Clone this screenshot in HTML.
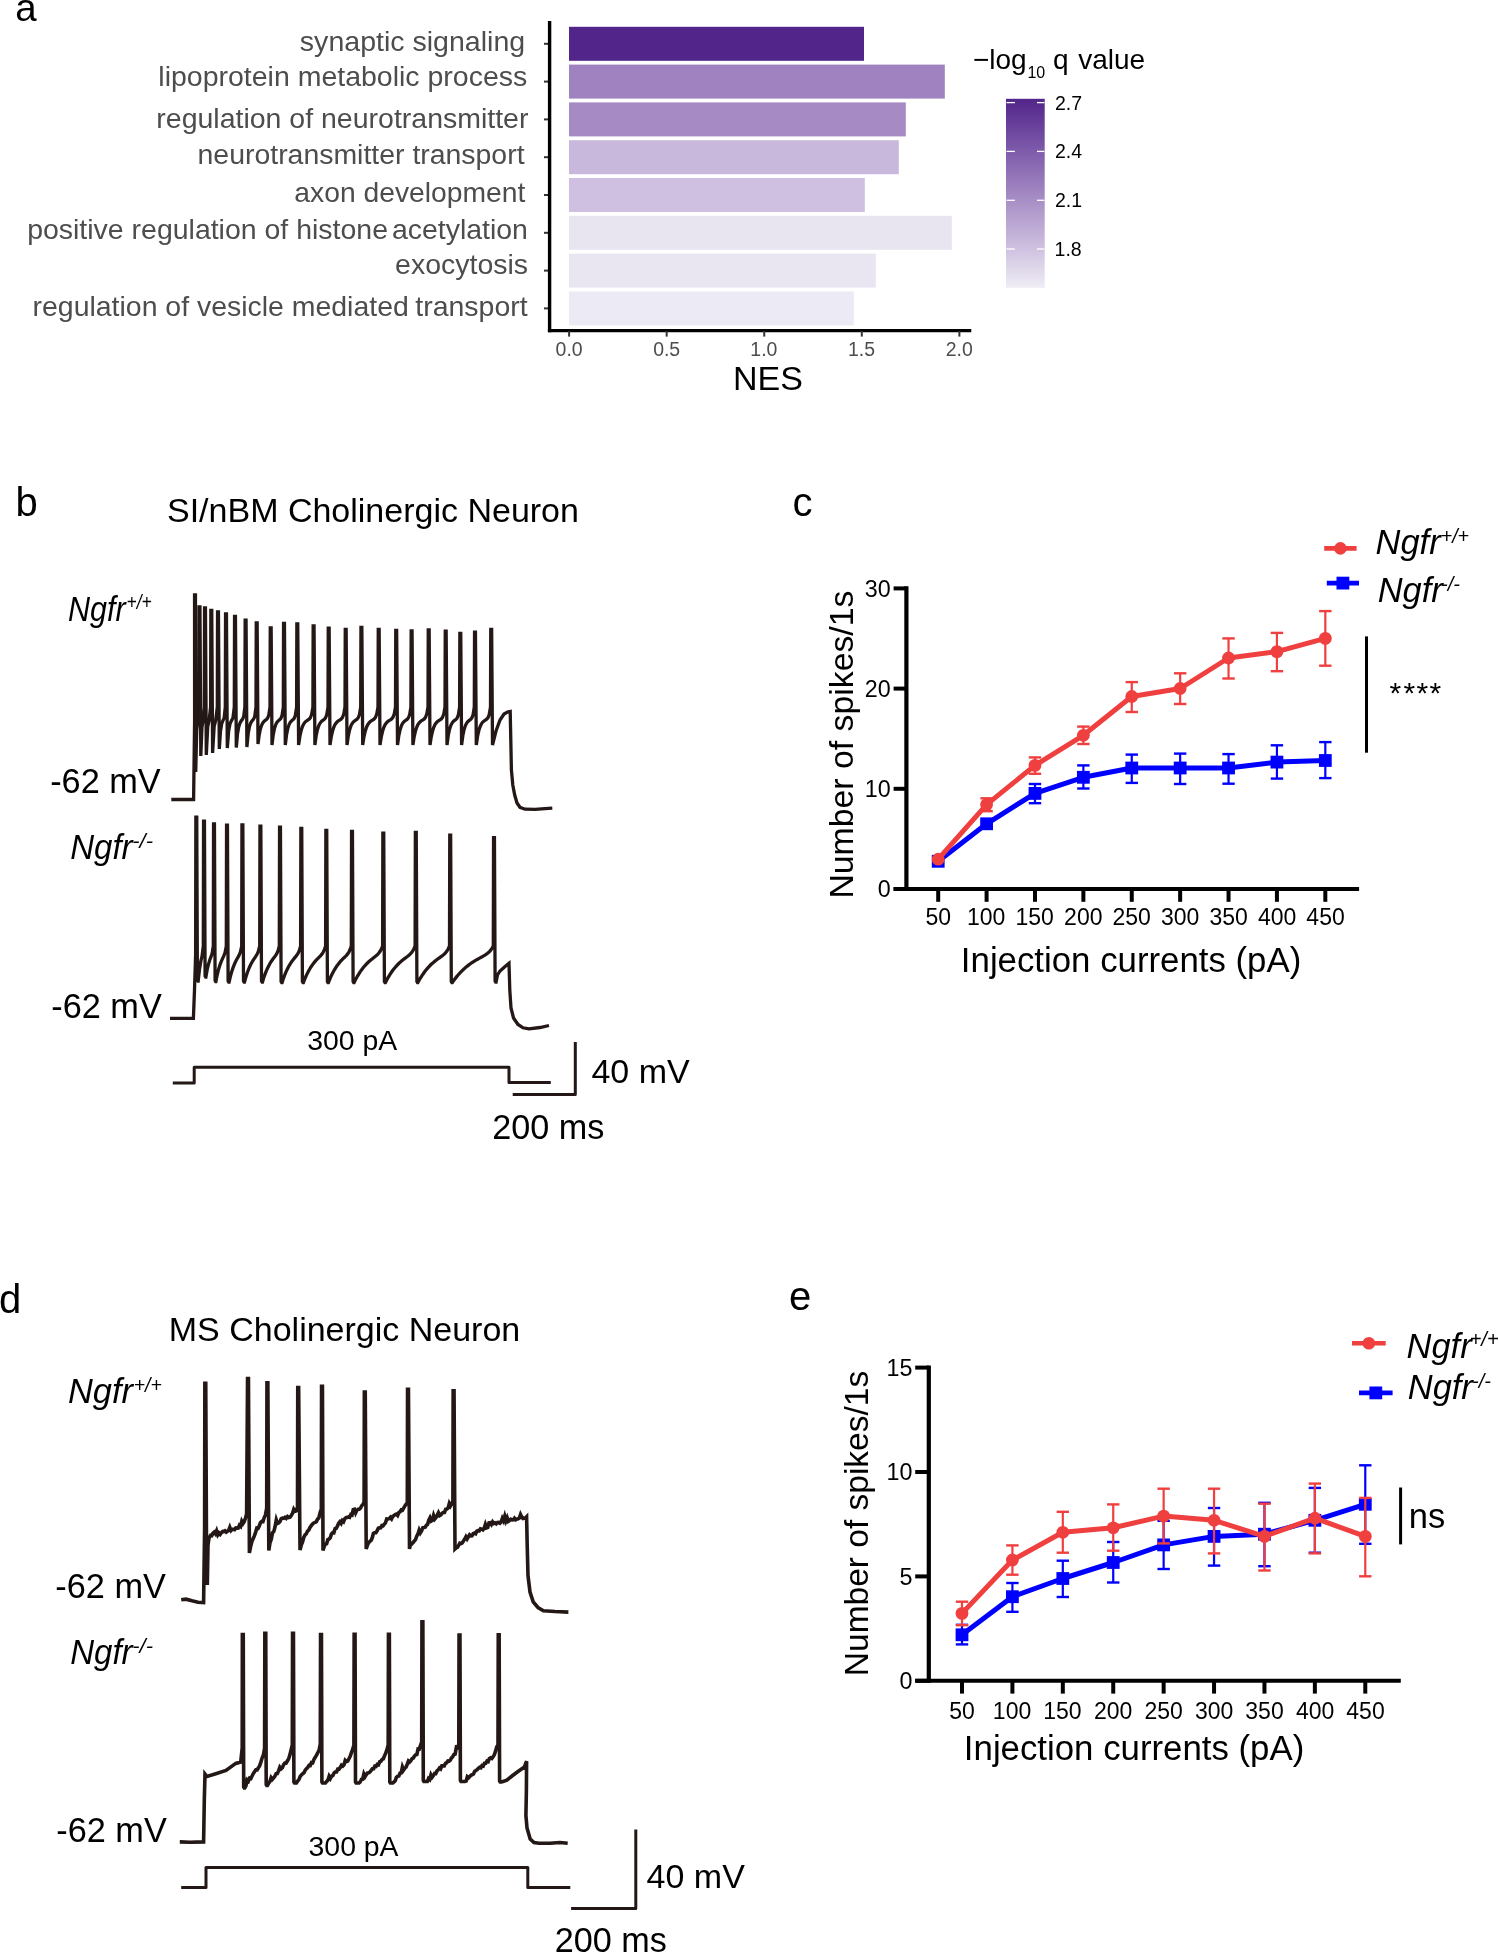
<!DOCTYPE html>
<html><head><meta charset="utf-8"><title>Figure</title>
<style>
html,body{margin:0;padding:0;background:#fff;}
svg{display:block;will-change:transform;}
text{font-family:"Liberation Sans",sans-serif;}
</style></head><body>
<svg width="1499" height="1953" viewBox="0 0 1499 1953">
<rect width="1499" height="1953" fill="#fff"/>
<text x="15.37" y="20.9" style="font-size:38.5px;fill:#000">a</text>
<text x="299.84" y="50.8" style="font-size:28.56px;fill:#4d4d4d">synaptic signaling</text>
<text x="158.35" y="86" style="font-size:28.49px;fill:#4d4d4d">lipoprotein metabolic process</text>
<text x="156.35" y="127.7" style="font-size:28.49px;fill:#4d4d4d">regulation of neurotransmitter</text>
<text x="197.55" y="163.5" style="font-size:28.43px;fill:#4d4d4d">neurotransmitter transport</text>
<text x="294.33" y="201.5" style="font-size:28.28px;fill:#4d4d4d">axon development</text>
<text x="27.15" y="238.5" style="font-size:28.47px;fill:#4d4d4d">positive regulation of histone</text>
<text x="391.92" y="238.5" style="font-size:28.46px;fill:#4d4d4d">acetylation</text>
<text x="395.12" y="273.6" style="font-size:28.47px;fill:#4d4d4d">exocytosis</text>
<text x="32.55" y="316.3" style="font-size:28.44px;fill:#4d4d4d">regulation of vesicle mediated</text>
<text x="415.27" y="316.3" style="font-size:28.48px;fill:#4d4d4d">transport</text>
<rect x="569" y="26.8" width="295" height="34" fill="#52258a"/>
<line x1="544" y1="43.8" x2="549" y2="43.8" stroke="#333333" stroke-width="2" stroke-linecap="butt"/>
<rect x="569" y="64.6" width="375.8" height="34" fill="#9f82bf"/>
<line x1="544" y1="81.6" x2="549" y2="81.6" stroke="#333333" stroke-width="2" stroke-linecap="butt"/>
<rect x="569" y="102.4" width="336.8" height="34" fill="#a68ac4"/>
<line x1="544" y1="119.4" x2="549" y2="119.4" stroke="#333333" stroke-width="2" stroke-linecap="butt"/>
<rect x="569" y="140.2" width="329.8" height="34" fill="#c8b9dc"/>
<line x1="544" y1="157.2" x2="549" y2="157.2" stroke="#333333" stroke-width="2" stroke-linecap="butt"/>
<rect x="569" y="178" width="295.8" height="34" fill="#cfbfe1"/>
<line x1="544" y1="195" x2="549" y2="195" stroke="#333333" stroke-width="2" stroke-linecap="butt"/>
<rect x="569" y="215.8" width="382.8" height="34" fill="#e8e5f1"/>
<line x1="544" y1="232.8" x2="549" y2="232.8" stroke="#333333" stroke-width="2" stroke-linecap="butt"/>
<rect x="569" y="253.6" width="306.8" height="34" fill="#e9e6f2"/>
<line x1="544" y1="270.6" x2="549" y2="270.6" stroke="#333333" stroke-width="2" stroke-linecap="butt"/>
<rect x="569" y="291.4" width="284.8" height="34" fill="#ecebf5"/>
<line x1="544" y1="308.4" x2="549" y2="308.4" stroke="#333333" stroke-width="2" stroke-linecap="butt"/>
<line x1="549.6" y1="21" x2="549.6" y2="332.3" stroke="#000" stroke-width="3.4" stroke-linecap="butt"/>
<line x1="547.9" y1="330.6" x2="971.3" y2="330.6" stroke="#000" stroke-width="3.4" stroke-linecap="butt"/>
<line x1="569.1" y1="331" x2="569.1" y2="336.6" stroke="#333333" stroke-width="2" stroke-linecap="butt"/>
<text transform="translate(555.56 356.3) scale(0.95 1)" style="font-size:20.5px;fill:#4d4d4d">0.0</text>
<line x1="666.67" y1="331" x2="666.67" y2="336.6" stroke="#333333" stroke-width="2" stroke-linecap="butt"/>
<text transform="translate(653.13 356.3) scale(0.95 1)" style="font-size:20.5px;fill:#4d4d4d">0.5</text>
<line x1="764.24" y1="331" x2="764.24" y2="336.6" stroke="#333333" stroke-width="2" stroke-linecap="butt"/>
<text transform="translate(750.36 356.3) scale(0.95 1)" style="font-size:20.5px;fill:#4d4d4d">1.0</text>
<line x1="861.81" y1="331" x2="861.81" y2="336.6" stroke="#333333" stroke-width="2" stroke-linecap="butt"/>
<text transform="translate(847.93 356.3) scale(0.95 1)" style="font-size:20.5px;fill:#4d4d4d">1.5</text>
<line x1="959.38" y1="331" x2="959.38" y2="336.6" stroke="#333333" stroke-width="2" stroke-linecap="butt"/>
<text transform="translate(945.75 356.3) scale(0.95 1)" style="font-size:20.5px;fill:#4d4d4d">2.0</text>
<text x="732.98" y="390" style="font-size:34px;fill:#000">NES</text>
<defs><linearGradient id="lg" x1="0" y1="0" x2="0" y2="1"><stop offset="0" stop-color="#52258a"/><stop offset="0.25" stop-color="#7a56a8"/><stop offset="0.5" stop-color="#a287c2"/><stop offset="0.75" stop-color="#c8b8dc"/><stop offset="1" stop-color="#efedf5"/></linearGradient></defs>
<rect x="1006" y="98.8" width="38.7" height="189" fill="url(#lg)"/>
<line x1="1006.5" y1="102.6" x2="1014.9" y2="102.6" stroke="#ffffff" stroke-width="1.3" stroke-linecap="butt"/>
<line x1="1037" y1="102.6" x2="1044.4" y2="102.6" stroke="#ffffff" stroke-width="1.3" stroke-linecap="butt"/>
<text x="1055.03" y="109.6" style="font-size:19.5px;fill:#000">2.7</text>
<line x1="1006.5" y1="151.4" x2="1014.9" y2="151.4" stroke="#ffffff" stroke-width="1.3" stroke-linecap="butt"/>
<line x1="1037" y1="151.4" x2="1044.4" y2="151.4" stroke="#ffffff" stroke-width="1.3" stroke-linecap="butt"/>
<text x="1055.03" y="158.4" style="font-size:19.5px;fill:#000">2.4</text>
<line x1="1006.5" y1="200.3" x2="1014.9" y2="200.3" stroke="#ffffff" stroke-width="1.3" stroke-linecap="butt"/>
<line x1="1037" y1="200.3" x2="1044.4" y2="200.3" stroke="#ffffff" stroke-width="1.3" stroke-linecap="butt"/>
<text x="1055.03" y="207.3" style="font-size:19.5px;fill:#000">2.1</text>
<line x1="1006.5" y1="249" x2="1014.9" y2="249" stroke="#ffffff" stroke-width="1.3" stroke-linecap="butt"/>
<line x1="1037" y1="249" x2="1044.4" y2="249" stroke="#ffffff" stroke-width="1.3" stroke-linecap="butt"/>
<text x="1054.54" y="256" style="font-size:19.5px;fill:#000">1.8</text>
<text x="972.9" y="69" style="font-size:28px;fill:#000">−log</text>
<text x="1027.4" y="77.5" style="font-size:16px;fill:#000">10</text>
<text x="1052.98" y="69" style="font-size:28px;fill:#000">q</text>
<text x="1078.16" y="69" style="font-size:28px;fill:#000">value</text>
<path d="M172.8 1082.9 L194.2 1082.9 L194.2 1067.2 L509 1067.2 L509 1082.5 L550.8 1082.5" fill="none" stroke="#231815" stroke-width="3" stroke-linejoin="round" stroke-linecap="butt"/>
<path d="M512.7 1094.4 L575.3 1094.4 L575.3 1042.1" fill="none" stroke="#231815" stroke-width="3" stroke-linejoin="round" stroke-linecap="butt"/>
<path d="M171.3 799.5 L193.6 799.5 L194.1 760 L194.6 720 L194.55 594.8 L195.45 594.8 L195.7 772 L196.73 730.36 L197.77 720.86 L198.8 707 L199.05 606.8 L199.95 606.8 L200.8 756 L201.97 726.93 L203.13 720.24 L204.3 707 L204.55 607.9 L205.45 607.9 L206.3 755 L207.73 726.72 L209.17 720.2 L210.6 707 L210.85 610.5 L211.75 610.5 L212.6 753 L214.17 726.29 L215.73 720.12 L217.3 707 L217.55 611.9 L218.45 611.9 L219.3 749 L220.5 731 L221.7 723.68 L222.9 720.63 L224.1 718.2 L225.3 707 L225.55 613.8 L226.45 613.8 L227.3 748 L228.7 730.6 L230.1 723.52 L231.5 720.57 L232.9 718.19 L234.3 707 L234.55 616.5 L235.45 616.5 L236.3 747.5 L237.53 733.83 L238.76 726.65 L239.99 722.87 L241.21 720.84 L242.44 719.42 L243.67 716.72 L244.9 707 L245.15 620.2 L246.05 620.2 L246.9 747 L248.2 733.57 L249.5 726.51 L250.8 722.8 L252.1 720.8 L253.4 719.41 L254.7 716.71 L256 707 L256.25 622.8 L257.15 622.8 L258 744 L259.2 734.84 L260.4 729 L261.6 725.27 L262.8 722.9 L264 721.37 L265.2 720.35 L266.4 719.46 L267.6 718.12 L268.8 714.98 L270 707 L270.25 627.9 L271.15 627.9 L272 745 L273.26 734.65 L274.51 728.38 L275.77 724.57 L277.02 722.26 L278.28 720.83 L279.53 719.81 L280.79 718.53 L282.04 715.49 L283.3 707 L283.55 623.5 L284.45 623.5 L285.3 745 L286.56 734.65 L287.81 728.38 L289.07 724.57 L290.32 722.26 L291.58 720.83 L292.83 719.81 L294.09 718.53 L295.34 715.49 L296.6 707 L296.85 623.9 L297.75 623.9 L298.6 745 L299.9 736.17 L301.2 730.31 L302.5 726.41 L303.8 723.83 L305.1 722.1 L306.4 720.94 L307.7 720.08 L309 719.21 L310.3 717.76 L311.6 714.52 L312.9 707 L313.15 625.9 L314.05 625.9 L314.9 745 L316.21 735.47 L317.52 729.4 L318.83 725.52 L320.14 723.05 L321.45 721.47 L322.76 720.4 L324.07 719.5 L325.38 718.14 L326.69 714.98 L328 707 L328.25 628.2 L329.15 628.2 L330 745 L331.25 736.78 L332.5 731.13 L333.75 727.24 L335 724.57 L336.25 722.74 L337.5 721.47 L338.75 720.56 L340 719.81 L341.25 718.93 L342.5 717.39 L343.75 714.11 L345 707 L345.25 629.5 L346.15 629.5 L347 745 L348.25 736.17 L349.49 730.31 L350.74 726.41 L351.98 723.83 L353.23 722.1 L354.47 720.94 L355.72 720.08 L356.96 719.21 L358.21 717.76 L359.45 714.52 L360.7 707 L360.95 627.5 L361.85 627.5 L362.7 745 L363.97 736.78 L365.25 731.13 L366.52 727.24 L367.8 724.57 L369.07 722.74 L370.35 721.47 L371.62 720.56 L372.9 719.81 L374.18 718.93 L375.45 717.39 L376.73 714.11 L378 707 L378.25 629.5 L379.15 629.5 L380 745 L381.29 736.78 L382.58 731.13 L383.88 727.24 L385.17 724.57 L386.46 722.74 L387.75 721.47 L389.04 720.56 L390.33 719.81 L391.62 718.93 L392.92 717.39 L394.21 714.11 L395.5 707 L395.75 630.3 L396.65 630.3 L397.5 745 L398.72 736.17 L399.94 730.31 L401.15 726.41 L402.37 723.83 L403.59 722.1 L404.81 720.94 L406.03 720.08 L407.25 719.21 L408.46 717.76 L409.68 714.52 L410.9 707 L411.15 630.8 L412.05 630.8 L412.9 745 L414.16 736.78 L415.42 731.13 L416.68 727.24 L417.93 724.57 L419.19 722.74 L420.45 721.47 L421.71 720.56 L422.97 719.81 L424.23 718.93 L425.48 717.39 L426.74 714.11 L428 707 L428.25 629.8 L429.15 629.8 L430 745 L431.25 736.78 L432.5 731.13 L433.75 727.24 L435 724.57 L436.25 722.74 L437.5 721.47 L438.75 720.56 L440 719.81 L441.25 718.93 L442.5 717.39 L443.75 714.11 L445 707 L445.25 631.2 L446.15 631.2 L447 745 L448.26 735.47 L449.52 729.4 L450.78 725.52 L452.04 723.05 L453.3 721.47 L454.56 720.4 L455.82 719.5 L457.08 718.14 L458.34 714.98 L459.6 707 L459.85 633.5 L460.75 633.5 L461.6 745 L462.87 735.47 L464.14 729.4 L465.41 725.52 L466.68 723.05 L467.95 721.47 L469.22 720.4 L470.49 719.5 L471.76 718.14 L473.03 714.98 L474.3 707 L474.55 632.2 L475.45 632.2 L476.3 745 L477.59 736.17 L478.88 730.31 L480.17 726.41 L481.46 723.83 L482.75 722.1 L484.05 720.94 L485.34 720.08 L486.63 719.21 L487.92 717.76 L489.21 714.52 L490.5 707 L490.75 629.5 L491.65 629.5 L492.5 745 L496 731 L500 720 L504 714 L507.5 712 L510.2 711.5 L510.8 740 L511.4 770 L512.8 785 L514.7 795 L517 803 L520 807.3 L525 809.2 L535 809.4 L545 808.6 L552.3 808.2" fill="none" stroke="#231815" stroke-width="3.3" stroke-linejoin="miter" stroke-linecap="butt"/>
<path d="M170 1018.3 L193.4 1018.3 L194.5 990 L195.6 955 L195.85 817.2 L196.75 817.2 L197.4 980 L198 981 L198.2 981 L199.48 969.43 L200.75 961.67 L202.03 956.09 L203.3 946 L203.55 821.2 L204.45 821.2 L205.1 976 L205.7 977 L205.9 977 L207.13 969.96 L208.37 964.57 L209.6 960.43 L210.83 957.16 L212.07 953.72 L213.3 946 L213.55 823.8 L214.45 823.8 L215.1 980.5 L215.7 981.5 L215.9 981.5 L217.2 975.03 L218.5 969.73 L219.8 965.39 L221.1 961.83 L222.4 958.86 L223.7 956.15 L225 952.75 L226.3 946 L226.55 825.2 L227.45 825.2 L228.1 981 L228.7 982 L229.1 982 L230.36 976.63 L231.62 972.05 L232.88 968.15 L234.14 964.82 L235.4 961.98 L236.66 959.53 L237.92 957.32 L239.18 955.02 L240.44 951.83 L241.7 946 L241.95 824.9 L242.85 824.9 L243.5 981 L244.1 982 L244.5 982 L245.77 977.46 L247.03 973.49 L248.3 970.02 L249.57 966.98 L250.83 964.32 L252.1 961.98 L253.37 959.92 L254.63 958.05 L255.9 956.21 L257.17 954.11 L258.43 951.11 L259.7 946 L259.95 826.2 L260.85 826.2 L261.5 981 L262.1 982 L262.5 982 L263.7 978.08 L264.9 974.58 L266.1 971.45 L267.3 968.67 L268.5 966.18 L269.7 963.97 L270.9 961.98 L272.1 960.2 L273.3 958.57 L274.5 957.01 L275.7 955.37 L276.9 953.39 L278.1 950.55 L279.3 946 L279.55 827.2 L280.45 827.2 L281.1 981.5 L281.7 982.5 L282.1 982.5 L283.33 978.76 L284.57 975.4 L285.8 972.38 L287.03 969.66 L288.27 967.22 L289.5 965.03 L290.73 963.05 L291.97 961.27 L293.2 959.65 L294.43 958.14 L295.67 956.66 L296.9 955.06 L298.13 953.1 L299.37 950.33 L300.6 946 L300.85 828.5 L301.75 828.5 L302.4 981.5 L303 982.5 L303.4 982.5 L304.63 979.36 L305.87 976.48 L307.1 973.85 L308.33 971.44 L309.57 969.24 L310.8 967.22 L312.03 965.38 L313.27 963.69 L314.5 962.14 L315.73 960.71 L316.97 959.39 L318.2 958.14 L319.43 956.91 L320.67 955.62 L321.9 954.15 L323.13 952.3 L324.37 949.74 L325.6 946 L325.85 830.5 L326.75 830.5 L327.4 981.5 L328 982.5 L328.4 982.5 L329.61 979.51 L330.81 976.77 L332.02 974.25 L333.22 971.93 L334.43 969.8 L335.63 967.84 L336.84 966.04 L338.04 964.38 L339.25 962.86 L340.45 961.45 L341.66 960.15 L342.86 958.92 L344.07 957.75 L345.27 956.58 L346.48 955.33 L347.68 953.89 L348.89 952.07 L350.09 949.58 L351.3 946 L351.55 831.5 L352.45 831.5 L353.1 981.5 L353.7 982.5 L354.1 982.5 L355.34 980.02 L356.58 977.7 L357.82 975.54 L359.06 973.52 L360.3 971.64 L361.53 969.89 L362.77 968.25 L364.01 966.72 L365.25 965.3 L366.49 963.97 L367.73 962.73 L368.97 961.57 L370.21 960.48 L371.45 959.45 L372.69 958.46 L373.93 957.5 L375.17 956.52 L376.4 955.5 L377.64 954.36 L378.88 953 L380.12 951.3 L381.36 949.05 L382.6 946 L382.85 833.1 L383.75 833.1 L384.4 981.5 L385 982.5 L385.4 982.5 L386.64 980.12 L387.88 977.89 L389.11 975.8 L390.35 973.85 L391.59 972.02 L392.83 970.31 L394.06 968.72 L395.3 967.22 L396.54 965.82 L397.78 964.51 L399.01 963.29 L400.25 962.14 L401.49 961.06 L402.73 960.04 L403.96 959.07 L405.2 958.14 L406.44 957.22 L407.68 956.28 L408.91 955.28 L410.15 954.15 L411.39 952.81 L412.62 951.13 L413.86 948.94 L415.1 946 L415.35 832.5 L416.25 832.5 L416.9 981.5 L417.5 982.5 L417.9 982.5 L419.12 980.29 L420.33 978.22 L421.55 976.27 L422.76 974.43 L423.98 972.71 L425.19 971.09 L426.41 969.56 L427.62 968.13 L428.84 966.78 L430.05 965.51 L431.27 964.32 L432.48 963.2 L433.7 962.14 L434.92 961.14 L436.13 960.19 L437.35 959.29 L438.56 958.42 L439.78 957.57 L440.99 956.71 L442.21 955.83 L443.42 954.86 L444.64 953.77 L445.85 952.46 L447.07 950.83 L448.28 948.74 L449.5 946 L449.75 835.2 L450.65 835.2 L451.3 981.5 L451.9 982.5 L452.3 982.5 L453.51 980.8 L454.71 979.18 L455.92 977.63 L457.12 976.16 L458.33 974.75 L459.54 973.41 L460.74 972.13 L461.95 970.9 L463.15 969.74 L464.36 968.63 L465.56 967.56 L466.77 966.55 L467.98 965.59 L469.18 964.66 L470.39 963.78 L471.59 962.94 L472.8 962.14 L474.01 961.37 L475.21 960.63 L476.42 959.92 L477.62 959.24 L478.83 958.57 L480.04 957.92 L481.24 957.27 L482.45 956.61 L483.65 955.93 L484.86 955.21 L486.06 954.43 L487.27 953.55 L488.48 952.54 L489.68 951.35 L490.89 949.92 L492.09 948.17 L493.3 946 L493.55 837.6 L494.45 837.6 L495.1 981 L495.7 982 L496.1 982 L497.5 975 L500 971 L504.5 967 L509 963.3 L509.8 990 L511 1008 L513.5 1018 L518 1024.5 L523 1027.8 L529 1028.8 L540 1027.5 L549 1025.5" fill="none" stroke="#231815" stroke-width="3.3" stroke-linejoin="miter" stroke-linecap="butt"/>
<path d="M181.2 1599.8 L186 1599.2 L192 1600.8 L198 1602.2 L203.6 1602.6 L204.1 1565 L204.6 1530 L204.85 1383.4 L205.75 1383.4 L206.5 1545 L207.3 1585 L208 1545 L209 1538 L210.6 1535.3 L211.8 1535.64 L213 1533.15 L214.2 1532.12 L215.4 1533.69 L216.6 1530.8 L217.8 1534.78 L219 1532.94 L220.2 1534.3 L221.4 1532.6 L222.6 1531.39 L223.8 1531.62 L225 1530.85 L226.2 1532.18 L227.4 1531.28 L228.6 1530.44 L229.8 1527.34 L231 1530.5 L232.2 1529.28 L233.4 1529.25 L234.6 1529.68 L235.8 1527.93 L237 1528.11 L238.2 1528 L239.4 1525.32 L240.6 1526.38 L241.8 1521.33 L243 1523.53 L244.2 1521.63 L245.4 1518.31 L246.6 1514 L247.55 1378.5 L248.45 1378.5 L249.4 1553 L250.64 1546.52 L251.87 1541.63 L253.11 1538.79 L254.34 1535.92 L255.58 1532.34 L256.81 1528.07 L258.05 1528.34 L259.29 1525.95 L260.52 1522.54 L261.76 1521.4 L262.99 1521.56 L264.23 1517.54 L265.46 1514.9 L266.7 1508 L266.95 1382.7 L267.85 1382.7 L268.8 1550.5 L270.05 1542.54 L271.3 1539.36 L272.54 1532.65 L273.79 1531.59 L275.04 1526.83 L276.29 1519.94 L277.53 1523.56 L278.78 1522.92 L280.03 1521.53 L281.28 1518.58 L282.53 1518.04 L283.77 1518.29 L285.02 1517.27 L286.27 1518.3 L287.52 1516.56 L288.77 1517.53 L290.01 1517.16 L291.26 1515.51 L292.51 1513.3 L293.76 1509.32 L295 1511.34 L296.25 1510.86 L297.5 1507 L297.75 1387.6 L298.65 1387.6 L300 1550 L301.25 1545.18 L302.51 1542.09 L303.76 1537.42 L305.01 1534.93 L306.26 1533.94 L307.52 1531.06 L308.77 1530.13 L310.02 1527.49 L311.28 1525.65 L312.53 1524.1 L313.78 1522.92 L315.04 1522.38 L316.29 1521.84 L317.54 1519.18 L318.79 1517.96 L320.05 1512.73 L321.3 1509 L321.55 1386.2 L322.45 1386.2 L323 1550.5 L324.21 1546.54 L325.42 1544.02 L326.63 1543.77 L327.84 1539.64 L329.04 1539.05 L330.25 1537.72 L331.46 1533.85 L332.67 1532.61 L333.88 1532.72 L335.09 1528.66 L336.3 1528.23 L337.51 1525.87 L338.71 1523.24 L339.92 1521.71 L341.13 1523.41 L342.34 1520.62 L343.55 1521.75 L344.76 1518.71 L345.97 1517.57 L347.18 1517.38 L348.39 1516.98 L349.59 1517.36 L350.8 1514.56 L352.01 1515.04 L353.22 1509.6 L354.43 1509.19 L355.64 1512.84 L356.85 1510.29 L358.06 1509.24 L359.26 1509.25 L360.47 1508.21 L361.68 1505.73 L362.89 1504.53 L364.1 1502 L364.35 1392 L365.25 1392 L366.2 1549 L367.41 1545.32 L368.62 1542.77 L369.83 1541.33 L371.04 1540.56 L372.24 1537.8 L373.45 1533.35 L374.66 1532.71 L375.87 1532.66 L377.08 1530.86 L378.29 1528.28 L379.5 1527.86 L380.71 1527.75 L381.91 1525.53 L383.12 1525.79 L384.33 1524.23 L385.54 1522.6 L386.75 1518.93 L387.96 1518.99 L389.17 1518.67 L390.38 1517.32 L391.59 1518.88 L392.79 1516.34 L394 1515.63 L395.21 1514.49 L396.42 1514.07 L397.63 1515.44 L398.84 1512.47 L400.05 1511.8 L401.26 1509.91 L402.46 1510.21 L403.67 1508.07 L404.88 1505.89 L406.09 1504.19 L407.3 1503 L407.55 1389.4 L408.45 1389.4 L409.5 1549 L410.71 1543.05 L411.91 1543.68 L413.12 1542.48 L414.32 1540.87 L415.53 1539.64 L416.73 1536.18 L417.94 1533.94 L419.14 1530.2 L420.35 1532.98 L421.56 1531.03 L422.76 1527.85 L423.97 1527.61 L425.17 1527.24 L426.38 1525.37 L427.58 1524.52 L428.79 1520.23 L429.99 1517.82 L431.2 1521.01 L432.41 1520.27 L433.61 1515.46 L434.82 1518.87 L436.02 1517.39 L437.23 1515.18 L438.43 1512.79 L439.64 1515.62 L440.84 1514.88 L442.05 1513.37 L443.26 1512.51 L444.46 1512.52 L445.67 1509.35 L446.87 1509.01 L448.08 1507.96 L449.28 1503.52 L450.49 1506 L451.69 1503.99 L452.9 1501 L453.15 1390.9 L454.05 1390.9 L455 1549 L456.21 1547.95 L457.43 1547.37 L458.64 1545.34 L459.85 1543.22 L461.07 1543.55 L462.28 1542.92 L463.49 1540.86 L464.71 1539.01 L465.92 1536.76 L467.14 1538.94 L468.35 1536.8 L469.56 1534.82 L470.78 1535.85 L471.99 1535.7 L473.2 1533.62 L474.42 1533.07 L475.63 1533.79 L476.84 1531.21 L478.06 1530.68 L479.27 1530.88 L480.48 1528.84 L481.7 1529.11 L482.91 1529.92 L484.13 1528.3 L485.34 1524.39 L486.55 1527.86 L487.77 1527.39 L488.98 1522.85 L490.19 1522.62 L491.41 1524.42 L492.62 1521.83 L493.83 1523.39 L495.05 1522.79 L496.26 1523.8 L497.47 1522.54 L498.69 1522.42 L499.9 1523.22 L501.12 1521.95 L502.33 1518.34 L503.54 1520.79 L504.76 1516.35 L505.97 1520.8 L507.18 1517.71 L508.4 1521.29 L509.61 1520.33 L510.82 1519.27 L512.04 1519.98 L513.25 1519.75 L514.46 1518.17 L515.68 1519.76 L516.89 1519.1 L518.11 1518.73 L519.32 1517.98 L520.53 1514.4 L521.75 1516.95 L522.96 1518.44 L524.17 1518.2 L525.39 1518.07 L526.6 1516.8 L527.2 1545 L528 1575.5 L530 1592 L533.2 1601.9 L538 1607.5 L543.4 1610.7 L555 1611.5 L568.4 1612.1" fill="none" stroke="#231815" stroke-width="3.6" stroke-linejoin="miter" stroke-linecap="butt"/>
<path d="M179.8 1841.9 L190 1842.2 L203.6 1841.9 L204.3 1800 L205 1774 L207 1776.5 L215 1774 L226 1770.4 L235.8 1763.4 L240.7 1762 L242.2 1748 L242.35 1634.6 L243.25 1634.6 L243.7 1787 L244.3 1788 L244.7 1788 L245.94 1785.85 L247.19 1779.88 L248.43 1780.97 L249.68 1777.95 L250.92 1778.41 L252.16 1775.72 L253.41 1773.38 L254.65 1771.61 L255.89 1769.73 L257.14 1769.79 L258.38 1767.72 L259.62 1765.92 L260.87 1762.15 L262.11 1758.09 L263.36 1755.06 L264.6 1748 L264.85 1633.2 L265.75 1633.2 L266.2 1784.5 L266.8 1785.5 L267.4 1785.5 L268.64 1783.28 L269.89 1781.62 L271.13 1777.64 L272.38 1779.35 L273.62 1777.93 L274.87 1776.29 L276.12 1773.59 L277.36 1773.47 L278.61 1770.6 L279.85 1767.22 L281.09 1768.79 L282.34 1767.61 L283.58 1764.72 L284.83 1763.09 L286.07 1763.18 L287.32 1761.02 L288.56 1758.97 L289.81 1755.18 L291.06 1749.94 L292.3 1745 L292.55 1633.2 L293.45 1633.2 L293.9 1782 L294.5 1783 L296.4 1783 L297.66 1781 L298.92 1779.58 L300.17 1776.47 L301.43 1774.89 L302.69 1773.66 L303.95 1772.87 L305.21 1770.2 L306.46 1768.71 L307.72 1767.38 L308.98 1765.36 L310.24 1765.52 L311.49 1762.53 L312.75 1762.73 L314.01 1759.24 L315.27 1757.34 L316.53 1755.19 L317.78 1752.77 L319.04 1750.33 L320.3 1744 L320.55 1634.6 L321.45 1634.6 L321.9 1782 L322.5 1783 L325.4 1783 L326.64 1781.35 L327.88 1780.18 L329.12 1776.18 L330.36 1778.4 L331.6 1776.04 L332.83 1775.53 L334.07 1772.95 L335.31 1771.99 L336.55 1771.98 L337.79 1769.03 L339.03 1769.08 L340.27 1767.4 L341.51 1765.22 L342.75 1766.12 L343.99 1764.81 L345.23 1760.4 L346.47 1761.61 L347.7 1761.1 L348.94 1758.76 L350.18 1756.25 L351.42 1752.62 L352.66 1749.4 L353.9 1745 L354.15 1634.2 L355.05 1634.2 L355.5 1782 L356.1 1783 L359 1783 L360.22 1781.95 L361.43 1779.46 L362.65 1779.27 L363.87 1774.01 L365.08 1776.6 L366.3 1774.57 L367.52 1772.89 L368.73 1772.69 L369.95 1771.93 L371.17 1770.42 L372.38 1768.8 L373.6 1768.71 L374.82 1766.12 L376.03 1766.48 L377.25 1764.49 L378.47 1764.86 L379.68 1761.74 L380.9 1761.34 L382.12 1759.43 L383.33 1758.93 L384.55 1755.65 L385.77 1753.16 L386.98 1749.35 L388.2 1745 L388.45 1634.2 L389.35 1634.2 L389.8 1782 L390.4 1783 L392.8 1783 L394 1781.89 L395.21 1780.66 L396.41 1777.37 L397.62 1776.29 L398.82 1775.92 L400.02 1773.18 L401.23 1772.97 L402.43 1767.01 L403.64 1769.93 L404.84 1768.17 L406.05 1767.24 L407.25 1764.25 L408.45 1761.01 L409.66 1762.05 L410.86 1760.65 L412.07 1758.63 L413.27 1758.06 L414.47 1756.16 L415.68 1754.83 L416.88 1754.47 L418.09 1748.92 L419.29 1749 L420.5 1745.45 L421.7 1742 L421.95 1621.8 L422.85 1621.8 L423.3 1780.5 L423.9 1781.5 L427.3 1781.5 L428.51 1778.51 L429.72 1779.53 L430.93 1774.89 L432.15 1777.21 L433.36 1775.59 L434.57 1773.47 L435.78 1773.64 L436.99 1770.94 L438.2 1769.91 L439.42 1768.09 L440.63 1768.99 L441.84 1765.88 L443.05 1765.86 L444.26 1765.86 L445.47 1763.27 L446.68 1762.76 L447.9 1761.03 L449.11 1761.18 L450.32 1760.13 L451.53 1757.93 L452.74 1756.65 L453.95 1754.44 L455.17 1754.02 L456.38 1747.23 L457.59 1747.63 L458.8 1744 L459.05 1635 L459.95 1635 L460.4 1780.5 L461 1781.5 L464.9 1781.5 L466.13 1781.09 L467.35 1776.76 L468.58 1777.8 L469.8 1776.5 L471.03 1775.27 L472.26 1774.69 L473.48 1773.95 L474.71 1771.25 L475.93 1770.55 L477.16 1769.66 L478.39 1768.24 L479.61 1767.31 L480.84 1767.71 L482.06 1765.49 L483.29 1765.98 L484.51 1763.33 L485.74 1763.28 L486.97 1761.08 L488.19 1761.64 L489.42 1758.54 L490.64 1757.86 L491.87 1758.42 L493.1 1756.8 L494.32 1754.82 L495.55 1751.19 L496.77 1746.78 L498 1745 L498.25 1634.7 L499.15 1634.7 L499.6 1781 L500.2 1782 L501.4 1782 L503 1781.5 L506.8 1780.2 L512 1776 L518 1771.5 L524.4 1767 L526.6 1761.2 L526.4 1790 L525.9 1815.5 L527 1828 L530.2 1839 L534 1842.5 L539 1843.3 L550 1843.3 L560 1842.5 L567.7 1843.3" fill="none" stroke="#231815" stroke-width="3.6" stroke-linejoin="miter" stroke-linecap="butt"/>
<path d="M181.2 1887.4 L206 1887.4 L206 1867.6 L527.8 1867.6 L527.8 1887.6 L570.3 1887.6" fill="none" stroke="#231815" stroke-width="3" stroke-linejoin="round" stroke-linecap="butt"/>
<path d="M571.1 1908.5 L635.8 1908.5 L635.8 1829.5" fill="none" stroke="#231815" stroke-width="3" stroke-linejoin="round" stroke-linecap="butt"/>
<text x="15.4" y="516" style="font-size:40px;fill:#000">b</text>
<text x="166.97" y="522" style="font-size:34px;fill:#000">SI/nBM Cholinergic Neuron</text>
<text transform="translate(68.08 620.9) scale(0.86 1)" style="font-size:35.5px;fill:#000;font-style:italic">Ngfr</text>
<text transform="translate(126.57 608.7) scale(0.87 1)" style="font-size:20px;fill:#000;font-style:italic">+/+</text>
<text x="50.16" y="792.9" style="font-size:34.3px;fill:#000">-62 mV</text>
<text transform="translate(70.21 858.6) scale(0.93 1)" style="font-size:35.5px;fill:#000;font-style:italic">Ngfr</text>
<text transform="translate(132.3 848.3) scale(1.1 1)" style="font-size:20px;fill:#000;font-style:italic">-/-</text>
<text x="51.26" y="1018.2" style="font-size:34.3px;fill:#000">-62 mV</text>
<text x="307.26" y="1049.6" style="font-size:28.4px;fill:#000">300 pA</text>
<text x="591.45" y="1083.3" style="font-size:34px;fill:#000">40 mV</text>
<text x="492.29" y="1139.4" style="font-size:34.2px;fill:#000">200 ms</text>
<text x="-0.9" y="1313" style="font-size:40px;fill:#000">d</text>
<text x="168.78" y="1341.4" style="font-size:34px;fill:#000">MS Cholinergic Neuron</text>
<text transform="translate(67.97 1402.9) scale(0.97 1)" style="font-size:35.5px;fill:#000;font-style:italic">Ngfr</text>
<text transform="translate(133.74 1391.5) scale(0.97 1)" style="font-size:20px;fill:#000;font-style:italic">+/+</text>
<text x="55.36" y="1597.9" style="font-size:34.3px;fill:#000">-62 mV</text>
<text transform="translate(70.21 1663.6) scale(0.93 1)" style="font-size:35.5px;fill:#000;font-style:italic">Ngfr</text>
<text transform="translate(132.3 1653.3) scale(1.1 1)" style="font-size:20px;fill:#000;font-style:italic">-/-</text>
<text x="56.26" y="1841.9" style="font-size:34.3px;fill:#000">-62 mV</text>
<text x="308.56" y="1856.2" style="font-size:28.4px;fill:#000">300 pA</text>
<text x="646.55" y="1888" style="font-size:34px;fill:#000">40 mV</text>
<text x="554.69" y="1951.8" style="font-size:34.2px;fill:#000">200 ms</text>
<text x="792.5" y="516" style="font-size:40px;fill:#000">c</text>
<line x1="906.4" y1="586.3" x2="906.4" y2="891" stroke="#000" stroke-width="4.2" stroke-linecap="butt"/>
<line x1="893.6" y1="889" x2="1359.1" y2="889" stroke="#000" stroke-width="4" stroke-linecap="butt"/>
<line x1="893.6" y1="889" x2="906.4" y2="889" stroke="#000" stroke-width="4" stroke-linecap="butt"/>
<text x="877.8" y="897.2" style="font-size:23.3px;fill:#000">0</text>
<line x1="893.6" y1="788.8" x2="906.4" y2="788.8" stroke="#000" stroke-width="4" stroke-linecap="butt"/>
<text x="864.87" y="797" style="font-size:23.3px;fill:#000">10</text>
<line x1="893.6" y1="688.6" x2="906.4" y2="688.6" stroke="#000" stroke-width="4" stroke-linecap="butt"/>
<text x="864.87" y="696.8" style="font-size:23.3px;fill:#000">20</text>
<line x1="893.6" y1="588.4" x2="906.4" y2="588.4" stroke="#000" stroke-width="4" stroke-linecap="butt"/>
<text x="864.87" y="596.6" style="font-size:23.3px;fill:#000">30</text>
<line x1="938.2" y1="889" x2="938.2" y2="901.8" stroke="#000" stroke-width="4" stroke-linecap="butt"/>
<text x="925.44" y="925" style="font-size:23px;fill:#000">50</text>
<line x1="986.59" y1="889" x2="986.59" y2="901.8" stroke="#000" stroke-width="4" stroke-linecap="butt"/>
<text x="967.04" y="925" style="font-size:23px;fill:#000">100</text>
<line x1="1034.98" y1="889" x2="1034.98" y2="901.8" stroke="#000" stroke-width="4" stroke-linecap="butt"/>
<text x="1015.43" y="925" style="font-size:23px;fill:#000">150</text>
<line x1="1083.37" y1="889" x2="1083.37" y2="901.8" stroke="#000" stroke-width="4" stroke-linecap="butt"/>
<text x="1064.11" y="925" style="font-size:23px;fill:#000">200</text>
<line x1="1131.76" y1="889" x2="1131.76" y2="901.8" stroke="#000" stroke-width="4" stroke-linecap="butt"/>
<text x="1112.5" y="925" style="font-size:23px;fill:#000">250</text>
<line x1="1180.15" y1="889" x2="1180.15" y2="901.8" stroke="#000" stroke-width="4" stroke-linecap="butt"/>
<text x="1161" y="925" style="font-size:23px;fill:#000">300</text>
<line x1="1228.54" y1="889" x2="1228.54" y2="901.8" stroke="#000" stroke-width="4" stroke-linecap="butt"/>
<text x="1209.39" y="925" style="font-size:23px;fill:#000">350</text>
<line x1="1276.93" y1="889" x2="1276.93" y2="901.8" stroke="#000" stroke-width="4" stroke-linecap="butt"/>
<text x="1257.96" y="925" style="font-size:23px;fill:#000">400</text>
<line x1="1325.32" y1="889" x2="1325.32" y2="901.8" stroke="#000" stroke-width="4" stroke-linecap="butt"/>
<text x="1306.35" y="925" style="font-size:23px;fill:#000">450</text>
<text x="960.87" y="971.8" style="font-size:34.8px;fill:#000">Injection currents (pA)</text>
<text transform="translate(852.9 898.6) rotate(-90)" style="font-size:33.8px;fill:#000">Number of spikes/1s</text>
<line x1="1034.98" y1="784" x2="1034.98" y2="803.2" stroke="#0000ff" stroke-width="2.2" stroke-linecap="butt"/>
<line x1="1028.78" y1="784" x2="1041.18" y2="784" stroke="#0000ff" stroke-width="2.4" stroke-linecap="butt"/>
<line x1="1028.78" y1="803.2" x2="1041.18" y2="803.2" stroke="#0000ff" stroke-width="2.4" stroke-linecap="butt"/>
<line x1="1083.37" y1="765.4" x2="1083.37" y2="788.5" stroke="#0000ff" stroke-width="2.2" stroke-linecap="butt"/>
<line x1="1077.17" y1="765.4" x2="1089.57" y2="765.4" stroke="#0000ff" stroke-width="2.4" stroke-linecap="butt"/>
<line x1="1077.17" y1="788.5" x2="1089.57" y2="788.5" stroke="#0000ff" stroke-width="2.4" stroke-linecap="butt"/>
<line x1="1131.76" y1="754.6" x2="1131.76" y2="782.9" stroke="#0000ff" stroke-width="2.2" stroke-linecap="butt"/>
<line x1="1125.56" y1="754.6" x2="1137.96" y2="754.6" stroke="#0000ff" stroke-width="2.4" stroke-linecap="butt"/>
<line x1="1125.56" y1="782.9" x2="1137.96" y2="782.9" stroke="#0000ff" stroke-width="2.4" stroke-linecap="butt"/>
<line x1="1180.15" y1="753.6" x2="1180.15" y2="784" stroke="#0000ff" stroke-width="2.2" stroke-linecap="butt"/>
<line x1="1173.95" y1="753.6" x2="1186.35" y2="753.6" stroke="#0000ff" stroke-width="2.4" stroke-linecap="butt"/>
<line x1="1173.95" y1="784" x2="1186.35" y2="784" stroke="#0000ff" stroke-width="2.4" stroke-linecap="butt"/>
<line x1="1228.54" y1="754.1" x2="1228.54" y2="783.7" stroke="#0000ff" stroke-width="2.2" stroke-linecap="butt"/>
<line x1="1222.34" y1="754.1" x2="1234.74" y2="754.1" stroke="#0000ff" stroke-width="2.4" stroke-linecap="butt"/>
<line x1="1222.34" y1="783.7" x2="1234.74" y2="783.7" stroke="#0000ff" stroke-width="2.4" stroke-linecap="butt"/>
<line x1="1276.93" y1="745.3" x2="1276.93" y2="778.6" stroke="#0000ff" stroke-width="2.2" stroke-linecap="butt"/>
<line x1="1270.73" y1="745.3" x2="1283.13" y2="745.3" stroke="#0000ff" stroke-width="2.4" stroke-linecap="butt"/>
<line x1="1270.73" y1="778.6" x2="1283.13" y2="778.6" stroke="#0000ff" stroke-width="2.4" stroke-linecap="butt"/>
<line x1="1325.32" y1="742.1" x2="1325.32" y2="778.1" stroke="#0000ff" stroke-width="2.2" stroke-linecap="butt"/>
<line x1="1319.12" y1="742.1" x2="1331.52" y2="742.1" stroke="#0000ff" stroke-width="2.4" stroke-linecap="butt"/>
<line x1="1319.12" y1="778.1" x2="1331.52" y2="778.1" stroke="#0000ff" stroke-width="2.4" stroke-linecap="butt"/>
<path d="M938.2 861.3 L986.59 823.8 L1034.98 793.4 L1083.37 777.3 L1131.76 768 L1180.15 768 L1228.54 768 L1276.93 762.1 L1325.32 760.5" fill="none" stroke="#0000ff" stroke-width="5" stroke-linejoin="round" stroke-linecap="butt"/>
<rect x="931.8" y="854.9" width="12.8" height="12.8" fill="#0000ff"/>
<rect x="980.19" y="817.4" width="12.8" height="12.8" fill="#0000ff"/>
<rect x="1028.58" y="787" width="12.8" height="12.8" fill="#0000ff"/>
<rect x="1076.97" y="770.9" width="12.8" height="12.8" fill="#0000ff"/>
<rect x="1125.36" y="761.6" width="12.8" height="12.8" fill="#0000ff"/>
<rect x="1173.75" y="761.6" width="12.8" height="12.8" fill="#0000ff"/>
<rect x="1222.14" y="761.6" width="12.8" height="12.8" fill="#0000ff"/>
<rect x="1270.53" y="755.7" width="12.8" height="12.8" fill="#0000ff"/>
<rect x="1318.92" y="754.1" width="12.8" height="12.8" fill="#0000ff"/>
<line x1="986.59" y1="798.3" x2="986.59" y2="811.2" stroke="#f03f3f" stroke-width="2.2" stroke-linecap="butt"/>
<line x1="980.39" y1="798.3" x2="992.79" y2="798.3" stroke="#f03f3f" stroke-width="2.4" stroke-linecap="butt"/>
<line x1="980.39" y1="811.2" x2="992.79" y2="811.2" stroke="#f03f3f" stroke-width="2.4" stroke-linecap="butt"/>
<line x1="1034.98" y1="757.4" x2="1034.98" y2="773.8" stroke="#f03f3f" stroke-width="2.2" stroke-linecap="butt"/>
<line x1="1028.78" y1="757.4" x2="1041.18" y2="757.4" stroke="#f03f3f" stroke-width="2.4" stroke-linecap="butt"/>
<line x1="1028.78" y1="773.8" x2="1041.18" y2="773.8" stroke="#f03f3f" stroke-width="2.4" stroke-linecap="butt"/>
<line x1="1083.37" y1="726.6" x2="1083.37" y2="744" stroke="#f03f3f" stroke-width="2.2" stroke-linecap="butt"/>
<line x1="1077.17" y1="726.6" x2="1089.57" y2="726.6" stroke="#f03f3f" stroke-width="2.4" stroke-linecap="butt"/>
<line x1="1077.17" y1="744" x2="1089.57" y2="744" stroke="#f03f3f" stroke-width="2.4" stroke-linecap="butt"/>
<line x1="1131.76" y1="682.1" x2="1131.76" y2="712" stroke="#f03f3f" stroke-width="2.2" stroke-linecap="butt"/>
<line x1="1125.56" y1="682.1" x2="1137.96" y2="682.1" stroke="#f03f3f" stroke-width="2.4" stroke-linecap="butt"/>
<line x1="1125.56" y1="712" x2="1137.96" y2="712" stroke="#f03f3f" stroke-width="2.4" stroke-linecap="butt"/>
<line x1="1180.15" y1="673.3" x2="1180.15" y2="704" stroke="#f03f3f" stroke-width="2.2" stroke-linecap="butt"/>
<line x1="1173.95" y1="673.3" x2="1186.35" y2="673.3" stroke="#f03f3f" stroke-width="2.4" stroke-linecap="butt"/>
<line x1="1173.95" y1="704" x2="1186.35" y2="704" stroke="#f03f3f" stroke-width="2.4" stroke-linecap="butt"/>
<line x1="1228.54" y1="638.4" x2="1228.54" y2="678.5" stroke="#f03f3f" stroke-width="2.2" stroke-linecap="butt"/>
<line x1="1222.34" y1="638.4" x2="1234.74" y2="638.4" stroke="#f03f3f" stroke-width="2.4" stroke-linecap="butt"/>
<line x1="1222.34" y1="678.5" x2="1234.74" y2="678.5" stroke="#f03f3f" stroke-width="2.4" stroke-linecap="butt"/>
<line x1="1276.93" y1="632.9" x2="1276.93" y2="671.2" stroke="#f03f3f" stroke-width="2.2" stroke-linecap="butt"/>
<line x1="1270.73" y1="632.9" x2="1283.13" y2="632.9" stroke="#f03f3f" stroke-width="2.4" stroke-linecap="butt"/>
<line x1="1270.73" y1="671.2" x2="1283.13" y2="671.2" stroke="#f03f3f" stroke-width="2.4" stroke-linecap="butt"/>
<line x1="1325.32" y1="611.1" x2="1325.32" y2="665.7" stroke="#f03f3f" stroke-width="2.2" stroke-linecap="butt"/>
<line x1="1319.12" y1="611.1" x2="1331.52" y2="611.1" stroke="#f03f3f" stroke-width="2.4" stroke-linecap="butt"/>
<line x1="1319.12" y1="665.7" x2="1331.52" y2="665.7" stroke="#f03f3f" stroke-width="2.4" stroke-linecap="butt"/>
<path d="M938.2 859.2 L986.59 804.6 L1034.98 765.4 L1083.37 735.3 L1131.76 696.5 L1180.15 688.5 L1228.54 658 L1276.93 651.6 L1325.32 638.4" fill="none" stroke="#f03f3f" stroke-width="5" stroke-linejoin="round" stroke-linecap="butt"/>
<circle cx="938.2" cy="859.2" r="6.4" fill="#f03f3f"/>
<circle cx="986.59" cy="804.6" r="6.4" fill="#f03f3f"/>
<circle cx="1034.98" cy="765.4" r="6.4" fill="#f03f3f"/>
<circle cx="1083.37" cy="735.3" r="6.4" fill="#f03f3f"/>
<circle cx="1131.76" cy="696.5" r="6.4" fill="#f03f3f"/>
<circle cx="1180.15" cy="688.5" r="6.4" fill="#f03f3f"/>
<circle cx="1228.54" cy="658" r="6.4" fill="#f03f3f"/>
<circle cx="1276.93" cy="651.6" r="6.4" fill="#f03f3f"/>
<circle cx="1325.32" cy="638.4" r="6.4" fill="#f03f3f"/>
<line x1="1324.2" y1="548.4" x2="1356.6" y2="548.4" stroke="#f03f3f" stroke-width="4.6" stroke-linecap="butt"/>
<circle cx="1340.4" cy="548.4" r="6.3" fill="#f03f3f"/>
<line x1="1326.8" y1="583.1" x2="1359" y2="583.1" stroke="#0000ff" stroke-width="4.6" stroke-linecap="butt"/>
<rect x="1336.5" y="576.7" width="12.8" height="12.8" fill="#0000ff"/>
<text transform="translate(1375.57 554) scale(0.97 1)" style="font-size:35.5px;fill:#000;font-style:italic">Ngfr</text>
<text transform="translate(1440.73 542.5) scale(0.98 1)" style="font-size:20px;fill:#000;font-style:italic">+/+</text>
<text transform="translate(1377.67 601.7) scale(0.97 1)" style="font-size:35.5px;fill:#000;font-style:italic">Ngfr</text>
<text x="1441.1" y="590.5" style="font-size:20px;fill:#000;font-style:italic">-/-</text>
<line x1="1366.5" y1="636.4" x2="1366.5" y2="752.7" stroke="#000" stroke-width="3" stroke-linecap="butt"/>
<text x="1389.55" y="703.3" style="font-size:30px;fill:#000">*</text>
<text x="1403.55" y="703.3" style="font-size:30px;fill:#000">*</text>
<text x="1416.55" y="703.3" style="font-size:30px;fill:#000">*</text>
<text x="1429.55" y="703.3" style="font-size:30px;fill:#000">*</text>
<text x="789" y="1310" style="font-size:40px;fill:#000">e</text>
<line x1="928.8" y1="1365.6" x2="928.8" y2="1682.8" stroke="#000" stroke-width="4.2" stroke-linecap="butt"/>
<line x1="915.2" y1="1680.8" x2="1400.8" y2="1680.8" stroke="#000" stroke-width="4" stroke-linecap="butt"/>
<line x1="915.2" y1="1680.8" x2="928.8" y2="1680.8" stroke="#000" stroke-width="4" stroke-linecap="butt"/>
<text x="899.4" y="1689" style="font-size:23.3px;fill:#000">0</text>
<line x1="915.2" y1="1576.4" x2="928.8" y2="1576.4" stroke="#000" stroke-width="4" stroke-linecap="butt"/>
<text x="899.4" y="1584.6" style="font-size:23.3px;fill:#000">5</text>
<line x1="915.2" y1="1472" x2="928.8" y2="1472" stroke="#000" stroke-width="4" stroke-linecap="butt"/>
<text x="886.47" y="1480.2" style="font-size:23.3px;fill:#000">10</text>
<line x1="915.2" y1="1367.6" x2="928.8" y2="1367.6" stroke="#000" stroke-width="4" stroke-linecap="butt"/>
<text x="886.47" y="1375.8" style="font-size:23.3px;fill:#000">15</text>
<line x1="962" y1="1680.8" x2="962" y2="1693.6" stroke="#000" stroke-width="4" stroke-linecap="butt"/>
<text x="949.24" y="1719" style="font-size:23px;fill:#000">50</text>
<line x1="1012.41" y1="1680.8" x2="1012.41" y2="1693.6" stroke="#000" stroke-width="4" stroke-linecap="butt"/>
<text x="992.86" y="1719" style="font-size:23px;fill:#000">100</text>
<line x1="1062.82" y1="1680.8" x2="1062.82" y2="1693.6" stroke="#000" stroke-width="4" stroke-linecap="butt"/>
<text x="1043.27" y="1719" style="font-size:23px;fill:#000">150</text>
<line x1="1113.23" y1="1680.8" x2="1113.23" y2="1693.6" stroke="#000" stroke-width="4" stroke-linecap="butt"/>
<text x="1093.97" y="1719" style="font-size:23px;fill:#000">200</text>
<line x1="1163.64" y1="1680.8" x2="1163.64" y2="1693.6" stroke="#000" stroke-width="4" stroke-linecap="butt"/>
<text x="1144.38" y="1719" style="font-size:23px;fill:#000">250</text>
<line x1="1214.05" y1="1680.8" x2="1214.05" y2="1693.6" stroke="#000" stroke-width="4" stroke-linecap="butt"/>
<text x="1194.9" y="1719" style="font-size:23px;fill:#000">300</text>
<line x1="1264.46" y1="1680.8" x2="1264.46" y2="1693.6" stroke="#000" stroke-width="4" stroke-linecap="butt"/>
<text x="1245.31" y="1719" style="font-size:23px;fill:#000">350</text>
<line x1="1314.87" y1="1680.8" x2="1314.87" y2="1693.6" stroke="#000" stroke-width="4" stroke-linecap="butt"/>
<text x="1295.89" y="1719" style="font-size:23px;fill:#000">400</text>
<line x1="1365.28" y1="1680.8" x2="1365.28" y2="1693.6" stroke="#000" stroke-width="4" stroke-linecap="butt"/>
<text x="1346.31" y="1719" style="font-size:23px;fill:#000">450</text>
<text x="963.87" y="1760" style="font-size:34.8px;fill:#000">Injection currents (pA)</text>
<text transform="translate(868.2 1676.18) rotate(-90)" style="font-size:33.5px;fill:#000">Number of spikes/1s</text>
<line x1="962" y1="1624.8" x2="962" y2="1644.4" stroke="#0000ff" stroke-width="2.2" stroke-linecap="butt"/>
<line x1="955.8" y1="1624.8" x2="968.2" y2="1624.8" stroke="#0000ff" stroke-width="2.4" stroke-linecap="butt"/>
<line x1="955.8" y1="1644.4" x2="968.2" y2="1644.4" stroke="#0000ff" stroke-width="2.4" stroke-linecap="butt"/>
<line x1="1012.41" y1="1583" x2="1012.41" y2="1611.8" stroke="#0000ff" stroke-width="2.2" stroke-linecap="butt"/>
<line x1="1006.21" y1="1583" x2="1018.61" y2="1583" stroke="#0000ff" stroke-width="2.4" stroke-linecap="butt"/>
<line x1="1006.21" y1="1611.8" x2="1018.61" y2="1611.8" stroke="#0000ff" stroke-width="2.4" stroke-linecap="butt"/>
<line x1="1062.82" y1="1560.7" x2="1062.82" y2="1597" stroke="#0000ff" stroke-width="2.2" stroke-linecap="butt"/>
<line x1="1056.62" y1="1560.7" x2="1069.02" y2="1560.7" stroke="#0000ff" stroke-width="2.4" stroke-linecap="butt"/>
<line x1="1056.62" y1="1597" x2="1069.02" y2="1597" stroke="#0000ff" stroke-width="2.4" stroke-linecap="butt"/>
<line x1="1113.23" y1="1542" x2="1113.23" y2="1582.5" stroke="#0000ff" stroke-width="2.2" stroke-linecap="butt"/>
<line x1="1107.03" y1="1542" x2="1119.43" y2="1542" stroke="#0000ff" stroke-width="2.4" stroke-linecap="butt"/>
<line x1="1107.03" y1="1582.5" x2="1119.43" y2="1582.5" stroke="#0000ff" stroke-width="2.4" stroke-linecap="butt"/>
<line x1="1163.64" y1="1520.8" x2="1163.64" y2="1569" stroke="#0000ff" stroke-width="2.2" stroke-linecap="butt"/>
<line x1="1157.44" y1="1520.8" x2="1169.84" y2="1520.8" stroke="#0000ff" stroke-width="2.4" stroke-linecap="butt"/>
<line x1="1157.44" y1="1569" x2="1169.84" y2="1569" stroke="#0000ff" stroke-width="2.4" stroke-linecap="butt"/>
<line x1="1214.05" y1="1508" x2="1214.05" y2="1565.6" stroke="#0000ff" stroke-width="2.2" stroke-linecap="butt"/>
<line x1="1207.85" y1="1508" x2="1220.25" y2="1508" stroke="#0000ff" stroke-width="2.4" stroke-linecap="butt"/>
<line x1="1207.85" y1="1565.6" x2="1220.25" y2="1565.6" stroke="#0000ff" stroke-width="2.4" stroke-linecap="butt"/>
<line x1="1264.46" y1="1502.8" x2="1264.46" y2="1566.2" stroke="#0000ff" stroke-width="2.2" stroke-linecap="butt"/>
<line x1="1258.26" y1="1502.8" x2="1270.66" y2="1502.8" stroke="#0000ff" stroke-width="2.4" stroke-linecap="butt"/>
<line x1="1258.26" y1="1566.2" x2="1270.66" y2="1566.2" stroke="#0000ff" stroke-width="2.4" stroke-linecap="butt"/>
<line x1="1314.87" y1="1487.9" x2="1314.87" y2="1552.7" stroke="#0000ff" stroke-width="2.2" stroke-linecap="butt"/>
<line x1="1308.67" y1="1487.9" x2="1321.07" y2="1487.9" stroke="#0000ff" stroke-width="2.4" stroke-linecap="butt"/>
<line x1="1308.67" y1="1552.7" x2="1321.07" y2="1552.7" stroke="#0000ff" stroke-width="2.4" stroke-linecap="butt"/>
<line x1="1365.28" y1="1465.3" x2="1365.28" y2="1543.8" stroke="#0000ff" stroke-width="2.2" stroke-linecap="butt"/>
<line x1="1359.08" y1="1465.3" x2="1371.48" y2="1465.3" stroke="#0000ff" stroke-width="2.4" stroke-linecap="butt"/>
<line x1="1359.08" y1="1543.8" x2="1371.48" y2="1543.8" stroke="#0000ff" stroke-width="2.4" stroke-linecap="butt"/>
<path d="M962 1634.8 L1012.41 1596.7 L1062.82 1578.5 L1113.23 1562.5 L1163.64 1544.9 L1214.05 1536.4 L1264.46 1534.2 L1314.87 1520.3 L1365.28 1504.3" fill="none" stroke="#0000ff" stroke-width="5" stroke-linejoin="round" stroke-linecap="butt"/>
<rect x="955.6" y="1628.4" width="12.8" height="12.8" fill="#0000ff"/>
<rect x="1006.01" y="1590.3" width="12.8" height="12.8" fill="#0000ff"/>
<rect x="1056.42" y="1572.1" width="12.8" height="12.8" fill="#0000ff"/>
<rect x="1106.83" y="1556.1" width="12.8" height="12.8" fill="#0000ff"/>
<rect x="1157.24" y="1538.5" width="12.8" height="12.8" fill="#0000ff"/>
<rect x="1207.65" y="1530" width="12.8" height="12.8" fill="#0000ff"/>
<rect x="1258.06" y="1527.8" width="12.8" height="12.8" fill="#0000ff"/>
<rect x="1308.47" y="1513.9" width="12.8" height="12.8" fill="#0000ff"/>
<rect x="1358.88" y="1497.9" width="12.8" height="12.8" fill="#0000ff"/>
<line x1="962" y1="1601.7" x2="962" y2="1625.2" stroke="#f03f3f" stroke-width="2.2" stroke-linecap="butt"/>
<line x1="955.8" y1="1601.7" x2="968.2" y2="1601.7" stroke="#f03f3f" stroke-width="2.4" stroke-linecap="butt"/>
<line x1="955.8" y1="1625.2" x2="968.2" y2="1625.2" stroke="#f03f3f" stroke-width="2.4" stroke-linecap="butt"/>
<line x1="1012.41" y1="1545.4" x2="1012.41" y2="1574.7" stroke="#f03f3f" stroke-width="2.2" stroke-linecap="butt"/>
<line x1="1006.21" y1="1545.4" x2="1018.61" y2="1545.4" stroke="#f03f3f" stroke-width="2.4" stroke-linecap="butt"/>
<line x1="1006.21" y1="1574.7" x2="1018.61" y2="1574.7" stroke="#f03f3f" stroke-width="2.4" stroke-linecap="butt"/>
<line x1="1062.82" y1="1511.8" x2="1062.82" y2="1552.7" stroke="#f03f3f" stroke-width="2.2" stroke-linecap="butt"/>
<line x1="1056.62" y1="1511.8" x2="1069.02" y2="1511.8" stroke="#f03f3f" stroke-width="2.4" stroke-linecap="butt"/>
<line x1="1056.62" y1="1552.7" x2="1069.02" y2="1552.7" stroke="#f03f3f" stroke-width="2.4" stroke-linecap="butt"/>
<line x1="1113.23" y1="1504.4" x2="1113.23" y2="1550.7" stroke="#f03f3f" stroke-width="2.2" stroke-linecap="butt"/>
<line x1="1107.03" y1="1504.4" x2="1119.43" y2="1504.4" stroke="#f03f3f" stroke-width="2.4" stroke-linecap="butt"/>
<line x1="1107.03" y1="1550.7" x2="1119.43" y2="1550.7" stroke="#f03f3f" stroke-width="2.4" stroke-linecap="butt"/>
<line x1="1163.64" y1="1488.7" x2="1163.64" y2="1543.4" stroke="#f03f3f" stroke-width="2.2" stroke-linecap="butt"/>
<line x1="1157.44" y1="1488.7" x2="1169.84" y2="1488.7" stroke="#f03f3f" stroke-width="2.4" stroke-linecap="butt"/>
<line x1="1157.44" y1="1543.4" x2="1169.84" y2="1543.4" stroke="#f03f3f" stroke-width="2.4" stroke-linecap="butt"/>
<line x1="1214.05" y1="1488.7" x2="1214.05" y2="1553.4" stroke="#f03f3f" stroke-width="2.2" stroke-linecap="butt"/>
<line x1="1207.85" y1="1488.7" x2="1220.25" y2="1488.7" stroke="#f03f3f" stroke-width="2.4" stroke-linecap="butt"/>
<line x1="1207.85" y1="1553.4" x2="1220.25" y2="1553.4" stroke="#f03f3f" stroke-width="2.4" stroke-linecap="butt"/>
<line x1="1264.46" y1="1503.7" x2="1264.46" y2="1570.5" stroke="#f03f3f" stroke-width="2.2" stroke-linecap="butt"/>
<line x1="1258.26" y1="1503.7" x2="1270.66" y2="1503.7" stroke="#f03f3f" stroke-width="2.4" stroke-linecap="butt"/>
<line x1="1258.26" y1="1570.5" x2="1270.66" y2="1570.5" stroke="#f03f3f" stroke-width="2.4" stroke-linecap="butt"/>
<line x1="1314.87" y1="1483.6" x2="1314.87" y2="1553.4" stroke="#f03f3f" stroke-width="2.2" stroke-linecap="butt"/>
<line x1="1308.67" y1="1483.6" x2="1321.07" y2="1483.6" stroke="#f03f3f" stroke-width="2.4" stroke-linecap="butt"/>
<line x1="1308.67" y1="1553.4" x2="1321.07" y2="1553.4" stroke="#f03f3f" stroke-width="2.4" stroke-linecap="butt"/>
<line x1="1365.28" y1="1497.9" x2="1365.28" y2="1576.3" stroke="#f03f3f" stroke-width="2.2" stroke-linecap="butt"/>
<line x1="1359.08" y1="1497.9" x2="1371.48" y2="1497.9" stroke="#f03f3f" stroke-width="2.4" stroke-linecap="butt"/>
<line x1="1359.08" y1="1576.3" x2="1371.48" y2="1576.3" stroke="#f03f3f" stroke-width="2.4" stroke-linecap="butt"/>
<path d="M962 1613.4 L1012.41 1560 L1062.82 1532.3 L1113.23 1527.8 L1163.64 1516.1 L1214.05 1520.3 L1264.46 1536.4 L1314.87 1518.2 L1365.28 1536.4" fill="none" stroke="#f03f3f" stroke-width="5" stroke-linejoin="round" stroke-linecap="butt"/>
<circle cx="962" cy="1613.4" r="6.4" fill="#f03f3f"/>
<circle cx="1012.41" cy="1560" r="6.4" fill="#f03f3f"/>
<circle cx="1062.82" cy="1532.3" r="6.4" fill="#f03f3f"/>
<circle cx="1113.23" cy="1527.8" r="6.4" fill="#f03f3f"/>
<circle cx="1163.64" cy="1516.1" r="6.4" fill="#f03f3f"/>
<circle cx="1214.05" cy="1520.3" r="6.4" fill="#f03f3f"/>
<circle cx="1264.46" cy="1536.4" r="6.4" fill="#f03f3f"/>
<circle cx="1314.87" cy="1518.2" r="6.4" fill="#f03f3f"/>
<circle cx="1365.28" cy="1536.4" r="6.4" fill="#f03f3f"/>
<line x1="1352" y1="1343.3" x2="1385.7" y2="1343.3" stroke="#f03f3f" stroke-width="4.6" stroke-linecap="butt"/>
<circle cx="1368.85" cy="1343.3" r="6.3" fill="#f03f3f"/>
<line x1="1359" y1="1392.9" x2="1392.6" y2="1392.9" stroke="#0000ff" stroke-width="4.6" stroke-linecap="butt"/>
<rect x="1369.4" y="1386.5" width="12.8" height="12.8" fill="#0000ff"/>
<text transform="translate(1406.57 1357.5) scale(0.97 1)" style="font-size:35.5px;fill:#000;font-style:italic">Ngfr</text>
<text x="1469.7" y="1346" style="font-size:20px;fill:#000;font-style:italic">+/+</text>
<text transform="translate(1407.77 1398.6) scale(0.97 1)" style="font-size:35.5px;fill:#000;font-style:italic">Ngfr</text>
<text x="1472.1" y="1388" style="font-size:20px;fill:#000;font-style:italic">-/-</text>
<line x1="1400.6" y1="1487.5" x2="1400.6" y2="1544.4" stroke="#000" stroke-width="3" stroke-linecap="butt"/>
<text x="1408.76" y="1527.7" style="font-size:34.5px;fill:#000">ns</text>
</svg>
</body></html>
